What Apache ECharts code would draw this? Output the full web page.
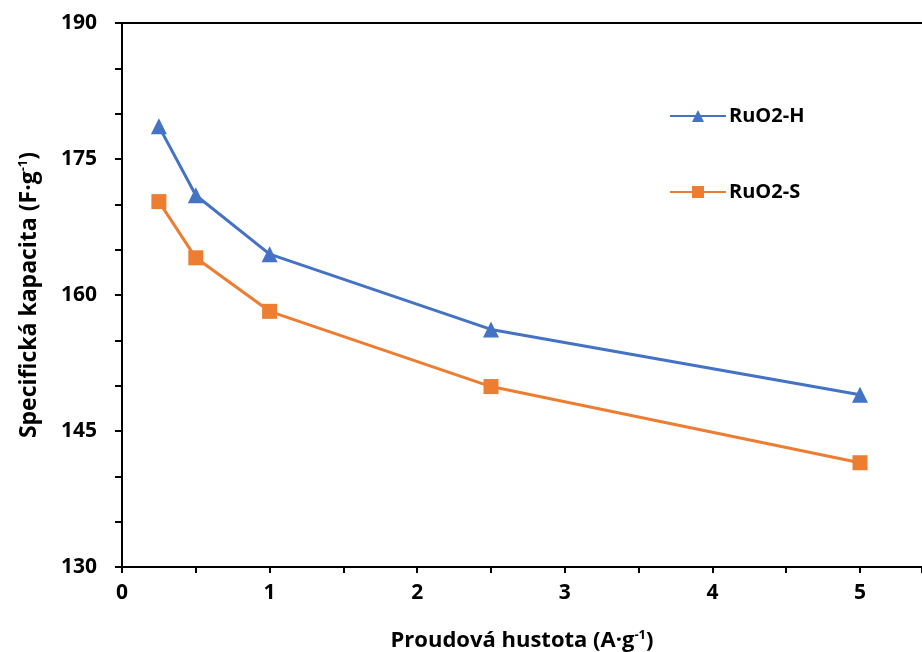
<!DOCTYPE html>
<html>
<head>
<meta charset="utf-8">
<script src="https://cdn.jsdelivr.net/npm/echarts@6/dist/echarts.min.js"></script>
<style>html,body{margin:0;padding:0;background:#fff}#c{width:922px;height:652px}</style>
</head>
<body>
<div id="c"></div>
<script>
const xValues = [0.25, 0.5, 1, 2.5, 5];
const seriesNames = ['RuO2-H', 'RuO2-S'];
const ruo2H = [178.6, 171.0, 164.5, 156.2, 149.0];
const ruo2S = [170.3, 164.1, 158.2, 149.9, 141.5];
const yTicks = [130, 145, 160, 175, 190];
const xTicks = [0, 1, 2, 3, 4, 5];

const font = '"Open Sans", Lato, sans-serif';
const chart = echarts.init(document.getElementById('c'));
const pair = (xs, ys) => xs.map((x, i) => [x, ys[i]]);
chart.setOption({
  animation: false,
  backgroundColor: '#fff',
  grid: { left: 122, top: 23, bottom: 85, right: 0, containLabel: false, outerBoundsMode: 'none' },
  legend: {
    orient: 'vertical', left: 664, top: 101, itemGap: 56,
    itemWidth: 56, itemHeight: 15,
    textStyle: { fontFamily: font, fontWeight: 'bold', fontSize: 20, color: '#000', padding: [0, 0, 0, -2] },
    data: seriesNames
  },
  xAxis: [{
    type: 'value', min: 0, max: 5.42, interval: 1,
    axisLine: { show: true, lineStyle: { color: '#000', width: 2 } },
    axisTick: { show: true, length: 6, lineStyle: { color: '#000', width: 2 } },
    minorTick: { show: true, splitNumber: 2, length: 6, lineStyle: { color: '#000', width: 2 } },
    splitLine: { show: false },
    axisLabel: { fontFamily: font, fontWeight: 'bold', fontSize: 21, color: '#000', margin: 16,
      showMaxLabel: false,
      formatter: v => (xTicks.includes(v) ? String(v) : '') },
    name: '{a|Proudová hustota (A·g}{s|-1}{a|)}',
    nameLocation: 'middle', nameGap: 62,
    nameTextStyle: { rich: {
      a: { fontFamily: font, fontWeight: 'bold', fontSize: 22, color: '#000' },
      s: { fontFamily: font, fontWeight: 'bold', fontSize: 13, color: '#000', padding: [0, 0, 11, 0] }
    } }
  }, {
    type: 'value', position: 'top', min: 0, max: 5.42,
    axisLine: { show: true, onZero: false, lineStyle: { color: '#000', width: 2 } },
    axisTick: { show: false }, axisLabel: { show: false }, splitLine: { show: false }
  }],
  yAxis: {
    type: 'value', min: 130, max: 190, interval: 15,
    axisLine: { show: true, lineStyle: { color: '#000', width: 2 } },
    axisTick: { show: true, length: 7, lineStyle: { color: '#000', width: 2 } },
    minorTick: { show: true, splitNumber: 3, length: 7, lineStyle: { color: '#000', width: 2 } },
    splitLine: { show: false },
    axisLabel: { fontFamily: font, fontWeight: 'bold', fontSize: 21, color: '#000', margin: 25,
      formatter: v => (yTicks.includes(v) ? String(v) : '') },
    name: '{a|Specifická kapacita (F·g}{s|-1}{a|)}',
    nameLocation: 'middle', nameGap: 81, nameRotate: 90,
    nameTextStyle: { rich: {
      a: { fontFamily: font, fontWeight: 'bold', fontSize: 23, color: '#000' },
      s: { fontFamily: font, fontWeight: 'bold', fontSize: 13, color: '#000', padding: [0, 0, 11, 0] }
    } }
  },
  series: [{
    name: seriesNames[0], type: 'line', data: pair(xValues, ruo2H),
    symbol: 'triangle', symbolSize: 16,
    itemStyle: { color: '#4472C4' }, lineStyle: { color: '#4472C4', width: 3 }
  }, {
    name: seriesNames[1], type: 'line', data: pair(xValues, ruo2S),
    symbol: 'rect', symbolSize: 15,
    itemStyle: { color: '#ED7D31' }, lineStyle: { color: '#ED7D31', width: 3 }
  }]
});
</script>
</body>
</html>
